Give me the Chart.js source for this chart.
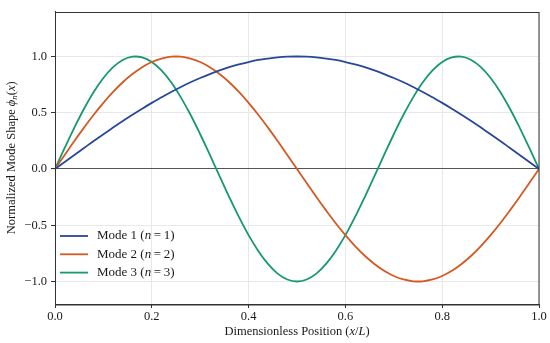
<!DOCTYPE html>
<html><head><meta charset="utf-8">
<script src="https://cdn.jsdelivr.net/npm/chart.js@4.4.1/dist/chart.umd.min.js"></script>
<style>html,body{margin:0;padding:0;background:#fff}#wrap{width:550px;height:343px;position:relative}</style>
</head><body><div id="wrap"><canvas id="c"></canvas></div>
<script>
const positions = [0,0.02,0.04,0.06,0.08,0.10,0.12,0.14,0.16,0.18,0.20,0.22,0.24,0.26,0.28,0.30,0.32,0.34,0.36,0.38,0.40,0.42,0.44,0.46,0.48,0.50,0.52,0.54,0.56,0.58,0.60,0.62,0.64,0.66,0.68,0.70,0.72,0.74,0.76,0.78,0.80,0.82,0.84,0.86,0.88,0.90,0.92,0.94,0.96,0.98,1.00];
const mode1 = [0,0.063,0.125,0.187,0.249,0.309,0.368,0.426,0.482,0.536,0.588,0.637,0.685,0.729,0.771,0.809,0.844,0.876,0.905,0.930,0.951,0.969,0.982,0.992,0.998,1.000,0.998,0.992,0.982,0.969,0.951,0.930,0.905,0.876,0.844,0.809,0.771,0.729,0.685,0.637,0.588,0.536,0.482,0.426,0.368,0.309,0.249,0.187,0.125,0.063,0];
const mode2 = [0,0.125,0.249,0.368,0.482,0.588,0.685,0.771,0.844,0.905,0.951,0.982,0.998,0.998,0.982,0.951,0.905,0.844,0.771,0.685,0.588,0.482,0.368,0.249,0.125,0,-0.125,-0.249,-0.368,-0.482,-0.588,-0.685,-0.771,-0.844,-0.905,-0.951,-0.982,-0.998,-0.998,-0.982,-0.951,-0.905,-0.844,-0.771,-0.685,-0.588,-0.482,-0.368,-0.249,-0.125,0];
const mode3 = [0,0.187,0.368,0.536,0.685,0.809,0.905,0.969,0.998,0.992,0.951,0.876,0.771,0.637,0.482,0.309,0.125,-0.063,-0.249,-0.426,-0.588,-0.729,-0.844,-0.930,-0.982,-1.000,-0.982,-0.930,-0.844,-0.729,-0.588,-0.426,-0.249,-0.063,0.125,0.309,0.482,0.637,0.771,0.876,0.951,0.992,0.998,0.969,0.905,0.809,0.685,0.536,0.368,0.187,0];
const seriesNames = ['Mode 1', 'Mode 2', 'Mode 3'];
const seriesN = ['1', '2', '3'];
const xTicks = [0, 0.2, 0.4, 0.6, 0.8, 1.0];
const yTicks = [-1.0, -0.5, 0.0, 0.5, 1.0];
const colors = ['#27479a', '#d35a23', '#179873'];

const SERIF = '"Liberation Serif", "Times New Roman", serif';
const allSeries = [mode1, mode2, mode3];

function segWidth(ctx, segs, size) {
  let w = 0;
  for (const s of segs) { ctx.font = (s.it ? 'italic ' : '') + (s.sub ? size * 0.72 : size) + 'px ' + SERIF; w += ctx.measureText(s.t).width; }
  return w;
}
function drawSegs(ctx, segs, x, y, size, align) {
  const w = segWidth(ctx, segs, size);
  let cx = align === 'center' ? x - w / 2 : x;
  ctx.textBaseline = 'middle'; ctx.textAlign = 'left';
  for (const s of segs) {
    ctx.font = (s.it ? 'italic ' : '') + (s.sub ? size * 0.72 : size) + 'px ' + SERIF;
    ctx.fillText(s.t, cx, y + (s.sub ? size * 0.25 : 0));
    cx += ctx.measureText(s.t).width;
  }
}

const decor = {
  id: 'decor',
  afterDraw(chart) {
    const ctx = chart.ctx, a = chart.chartArea;
    ctx.save();
    ctx.strokeStyle = '#333'; ctx.lineWidth = 1;
    ctx.strokeRect(Math.round(a.left) + 0.5, Math.round(a.top) + 0.5, Math.round(a.right - a.left) - 1 + 0.5, Math.round(a.bottom - a.top) - 1 + 0.5);
    ctx.fillStyle = '#1a1a1a';
    // x title
    drawSegs(ctx, [{t: 'Dimensionless Position ('}, {t: 'x', it: 1}, {t: '/'}, {t: 'L', it: 1}, {t: ')'}], (a.left + a.right) / 2, 332, 12.5, 'center');
    // y title
    ctx.save();
    ctx.translate(12, (a.top + a.bottom) / 2);
    ctx.rotate(-Math.PI / 2);
    drawSegs(ctx, [{t: 'Normalized Mode Shape '}, {t: '\u03d5', it: 1}, {t: 'n', it: 1, sub: 1}, {t: '('}, {t: 'x', it: 1}, {t: ')'}], 0, 0, 12.5, 'center');
    ctx.restore();
    // legend
    const lx = a.left + 5, ly0 = 236, dy = 18.3;
    chart.data.datasets.forEach((ds, i) => {
      const y = ly0 + i * dy;
      ctx.strokeStyle = ds.borderColor; ctx.lineWidth = 1.8;
      ctx.beginPath(); ctx.moveTo(lx, y); ctx.lineTo(lx + 28, y); ctx.stroke();
      ctx.fillStyle = '#1a1a1a';
      drawSegs(ctx, [{t: seriesNames[i] + ' ('}, {t: 'n', it: 1}, {t: '\u2009=\u2009' + seriesN[i] + ')'}], lx + 37, y, 13, 'left');
    });
    ctx.restore();
  }
};

new Chart(document.getElementById('c'), {
  type: 'line',
  data: {
    datasets: allSeries.map((s, i) => ({
      label: seriesNames[i] + ' (n = ' + seriesN[i] + ')',
      data: positions.map((x, j) => ({x: x, y: s[j]})),
      borderColor: colors[i], backgroundColor: colors[i],
      borderWidth: 1.8, pointRadius: 0, tension: 0.4, fill: false
    }))
  },
  options: {
    responsive: true, maintainAspectRatio: false, animation: false,
    layout: {padding: {left: 0, right: 11, top: 4, bottom: 0}},
    plugins: {legend: {display: false}, tooltip: {enabled: false}},
    scales: {
      x: {
        type: 'linear', min: 0, max: 1,
        afterBuildTicks: sc => { sc.ticks = xTicks.map(v => ({value: v})); },
        afterFit: sc => { sc.height = 39; },
        ticks: {callback: v => v.toFixed(1), color: '#1a1a1a', font: {family: SERIF, size: 12.5}, padding: 1, maxRotation: 0},
        grid: {color: '#e8e8e8', tickColor: '#333', tickLength: 4, lineWidth: 1},
        border: {color: '#333', width: 1}
      },
      y: {
        type: 'linear', min: -1.2, max: 1.4,
        afterBuildTicks: sc => { sc.ticks = yTicks.map(v => ({value: v})); },
        afterFit: sc => { sc.width = 55; },
        ticks: {callback: v => v.toFixed(1).replace('-', '\u2212'), color: '#1a1a1a', font: {family: SERIF, size: 12.5}, padding: 4},
        grid: {color: ctx => ctx.tick && ctx.tick.value === 0 ? '#555' : '#e8e8e8', tickColor: '#333', tickLength: 4, lineWidth: ctx => ctx.tick && ctx.tick.value === 0 ? 1.1 : 1},
        border: {color: '#333', width: 1}
      }
    }
  },
  plugins: [decor]
});
</script></body></html>
